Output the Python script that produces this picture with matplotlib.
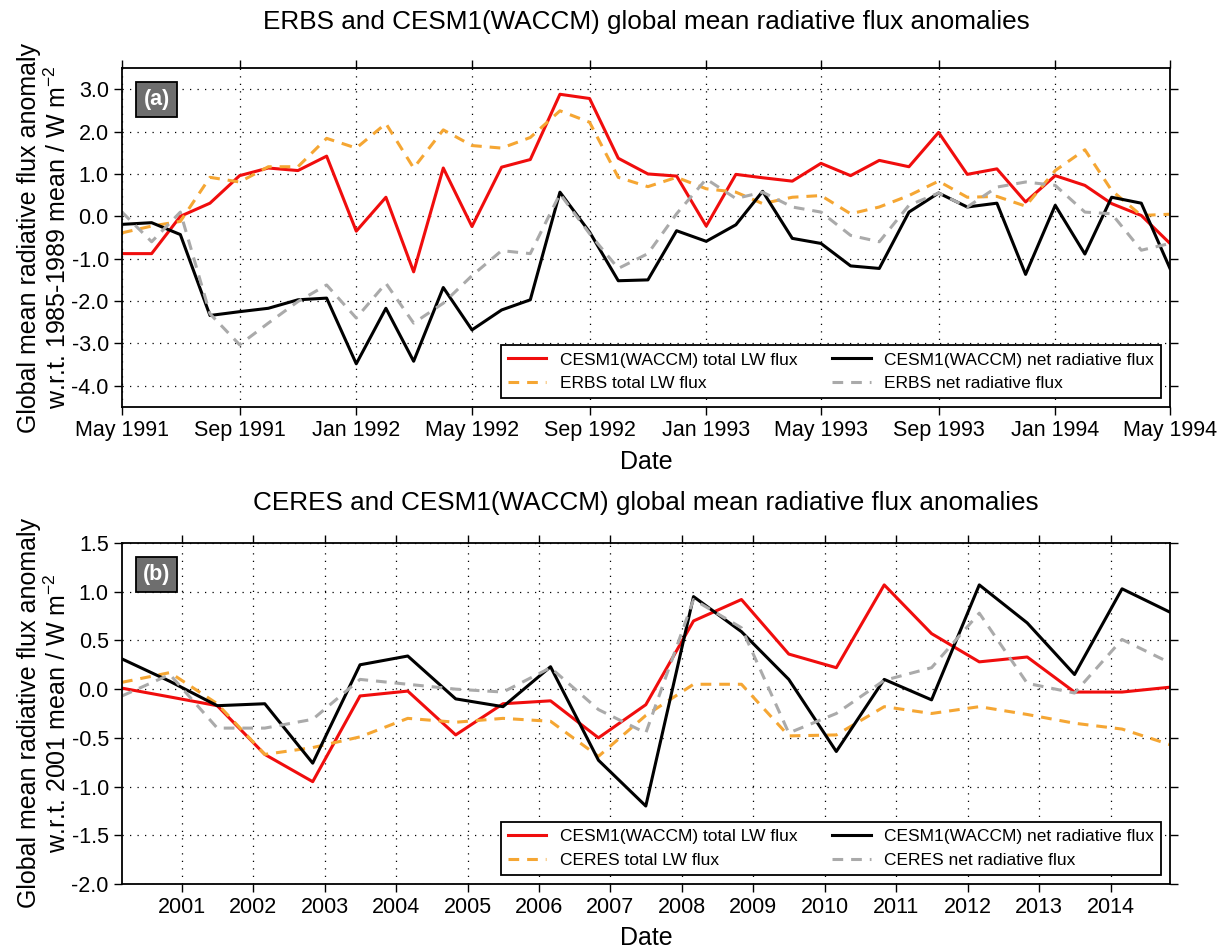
import numpy as np
import pandas as pd
import matplotlib
matplotlib.use('Agg')
import matplotlib.pyplot as plt
import matplotlib.dates as mdates
from matplotlib.ticker import FormatStrFormatter

plt.rcParams['font.family'] = ['Liberation Sans', 'DejaVu Sans']
plt.rcParams['mathtext.fontset'] = 'custom'
plt.rcParams['mathtext.rm'] = 'Liberation Sans'
plt.rcParams['mathtext.it'] = 'Liberation Sans:italic'
plt.rcParams['axes.unicode_minus'] = False

# panel (a): monthly, May 1991 - May 1994
dates_a = pd.date_range('1991-05-01', '1994-05-01', freq='MS')
cesm_lw_a = [-0.88, -0.88, 0.00, 0.31, 0.96, 1.14, 1.08, 1.42, -0.35, 0.45, -1.31, 1.14,
             -0.24, 1.16, 1.34, 2.88, 2.78, 1.37, 1.00, 0.95, -0.23, 0.99, 0.91, 0.83,
             1.25, 0.96, 1.32, 1.17, 1.98, 0.99, 1.12, 0.34, 0.96, 0.73, 0.30, 0.02, -0.64]
erbs_lw = [-0.39, -0.23, -0.12, 0.92, 0.81, 1.17, 1.17, 1.84, 1.61, 2.19, 1.14, 2.04,
           1.67, 1.61, 1.86, 2.49, 2.22, 0.92, 0.70, 0.92, 0.65, 0.57, 0.30, 0.45,
           0.49, 0.06, 0.22, 0.49, 0.83, 0.45, 0.47, 0.24, 1.08, 1.57, 0.61, 0.02, 0.05]
cesm_net_a = [-0.19, -0.15, -0.43, -2.34, -2.25, -2.17, -1.97, -1.93, -3.48, -2.17, -3.42, -1.68,
              -2.68, -2.21, -1.97, 0.57, -0.37, -1.52, -1.50, -0.34, -0.59, -0.20, 0.59, -0.52,
              -0.64, -1.17, -1.23, 0.10, 0.55, 0.22, 0.31, -1.37, 0.26, -0.89, 0.45, 0.31, -1.23]
erbs_net = [0.10, -0.60, 0.10, -2.30, -3.03, -2.52, -2.01, -1.62, -2.40, -1.58, -2.52, -2.05,
            -1.40, -0.81, -0.88, 0.53, -0.41, -1.23, -0.88, 0.06, 0.88, 0.42, 0.57, 0.22,
            0.10, -0.45, -0.60, 0.26, 0.55, 0.22, 0.69, 0.81, 0.73, 0.10, 0.06, -0.80, -0.64]

# panel (b): 8-monthly, Mar 2000 - Nov 2014
dates_b = pd.date_range('2000-03-01', periods=23, freq='8MS')
cesm_lw_b = [0.01, -0.08, -0.17, -0.67, -0.95, -0.07, -0.02, -0.47, -0.15, -0.12, -0.50, -0.16,
             0.70, 0.92, 0.36, 0.22, 1.07, 0.57, 0.28, 0.33, -0.03, -0.03, 0.02]
ceres_lw = [0.07, 0.17, -0.15, -0.67, -0.60, -0.49, -0.30, -0.34, -0.30, -0.33, -0.69, -0.27,
            0.05, 0.05, -0.48, -0.47, -0.18, -0.25, -0.18, -0.26, -0.35, -0.41, -0.57]
cesm_net_b = [0.31, 0.08, -0.17, -0.15, -0.76, 0.25, 0.34, -0.10, -0.18, 0.23, -0.73, -1.20,
              0.95, 0.59, 0.10, -0.64, 0.10, -0.11, 1.07, 0.68, 0.15, 1.03, 0.79]
ceres_net = [-0.07, 0.15, -0.40, -0.40, -0.31, 0.10, 0.05, 0.00, -0.03, 0.22, -0.21, -0.45,
             0.92, 0.63, -0.45, -0.25, 0.09, 0.22, 0.78, 0.06, -0.04, 0.51, 0.27]

RED = '#f00d0d'
ORANGE = '#f5a633'
GRAY = '#aaaaaa'
DASH = (0, (3.5, 2.6))

fig = plt.figure(figsize=(12.2, 9.51), dpi=100)
ax1 = fig.add_axes([0.1, 0.572, 0.859, 0.3565])
ax2 = fig.add_axes([0.1, 0.0705, 0.859, 0.3585])


def draw(ax, x, lw_m, lw_o, net_m, net_o, obs, title, ylab, tag, tpad):
    ax.plot(x, lw_m, color=RED, lw=2.2, label='CESM1(WACCM) total LW flux')
    ax.plot(x, lw_o, color=ORANGE, lw=2.2, ls=DASH, label=obs + ' total LW flux')
    ax.plot(x, net_m, color='black', lw=2.2, label='CESM1(WACCM) net radiative flux')
    ax.plot(x, net_o, color=GRAY, lw=2.2, ls=DASH, label=obs + ' net radiative flux')
    ax.set_xlim(x[0], x[-1])
    ax.grid(True, ls=(0, (1, 5)), color='black', lw=0.9)
    ax.tick_params(direction='out', length=6, width=1, labelsize=15.5,
                   top=True, right=True)
    for s in ax.spines.values():
        s.set_linewidth(1.3)
    ax.yaxis.set_major_formatter(FormatStrFormatter('%.1f'))
    ax.set_title(title, fontsize=18.8, pad=tpad)
    ax.set_ylabel(ylab, fontsize=18, labelpad=0)
    ax.set_xlabel('Date', fontsize=18, labelpad=6)
    leg = ax.legend(loc='lower right', ncol=2, fontsize=12.5, fancybox=False,
                    framealpha=1, edgecolor='black', handlelength=2.2)
    leg.get_frame().set_linewidth(1.3)
    ax.text(0.033, 0.907, tag, transform=ax.transAxes, ha='center', va='center',
            fontsize=15.5, fontweight='bold', color='white',
            bbox=dict(boxstyle='square,pad=0.33', facecolor='#6e6e6e', edgecolor='black', lw=1.3))


draw(ax1, dates_a, cesm_lw_a, erbs_lw, cesm_net_a, erbs_net, 'ERBS',
     'ERBS and CESM1(WACCM) global mean radiative flux anomalies',
     'Global mean radiative flux anomaly\nw.r.t. 1985-1989 mean / W m$^{-2}$', '(a)', 28)
ax1.set_ylim(-4.5, 3.5)
ax1.set_yticks(np.arange(-4, 3.5, 1.0))
ax1.xaxis.set_major_locator(mdates.MonthLocator(bymonth=[1, 5, 9]))
ax1.xaxis.set_major_formatter(mdates.DateFormatter('%b %Y'))

draw(ax2, dates_b, cesm_lw_b, ceres_lw, cesm_net_b, ceres_net, 'CERES',
     'CERES and CESM1(WACCM) global mean radiative flux anomalies',
     'Global mean radiative flux anomaly\nw.r.t. 2001 mean / W m$^{-2}$', '(b)', 24)
ax2.set_ylim(-2.0, 1.5)
ax2.set_yticks(np.arange(-2.0, 1.51, 0.5))
ax2.xaxis.set_major_locator(mdates.YearLocator())
ax2.xaxis.set_major_formatter(mdates.DateFormatter('%Y'))

fig.savefig('out.png', dpi=100)
